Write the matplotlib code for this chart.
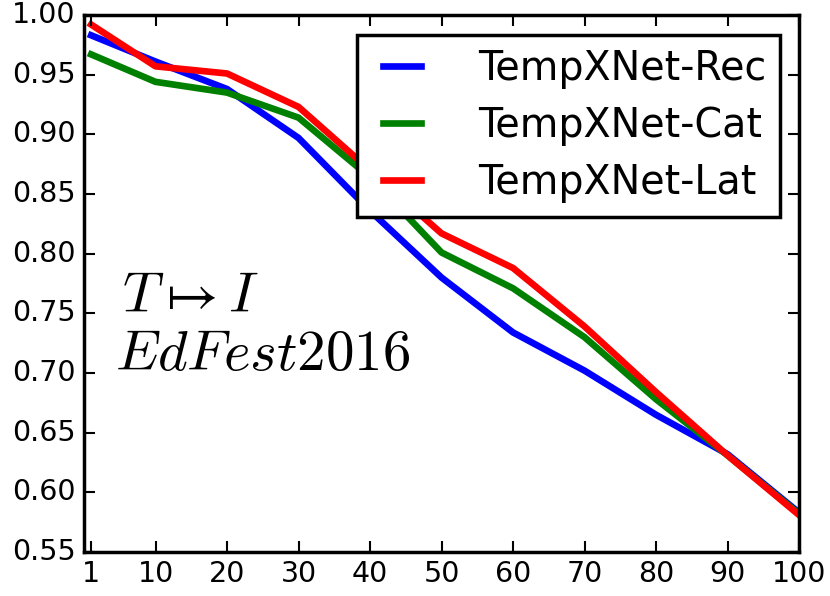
import numpy as np
import matplotlib
matplotlib.use('Agg')
import matplotlib.pyplot as plt

plt.style.use('classic')
plt.rcParams['mathtext.fontset'] = 'cm'
plt.rcParams['font.family'] = 'DejaVu Sans'

# Значення
k_values = [1, 10, 20, 30, 40, 50, 60, 70, 80, 90, 100]
rec = [0.983, 0.961, 0.938, 0.897, 0.836, 0.780, 0.734, 0.702, 0.665, 0.632, 0.583]
cat = [0.967, 0.944, 0.935, 0.914, 0.864, 0.801, 0.771, 0.730, 0.678, 0.631, 0.582]
lat = [0.992, 0.957, 0.951, 0.923, 0.870, 0.817, 0.788, 0.739, 0.684, 0.631, 0.581]
series_names = ['TempXNet-Rec', 'TempXNet-Cat', 'TempXNet-Lat']
x_ticks = [1, 10, 20, 30, 40, 50, 60, 70, 80, 90, 100]
y_ticks = [0.55, 0.60, 0.65, 0.70, 0.75, 0.80, 0.85, 0.90, 0.95, 1.00]

fig = plt.figure(figsize=(8.3, 5.96), dpi=100, facecolor='white')
ax = fig.add_axes([0.1012, 0.0738, 0.8615, 0.901])

colors = ['blue', 'green', 'red']
for vals, name, c in zip([rec, cat, lat], series_names, colors):
    ax.plot(k_values, vals, color=c, linewidth=4.8, label=name)

ax.set_xlim(0, 100)
ax.set_ylim(0.55, 1.00)
ax.set_xticks(x_ticks)
ax.set_yticks(y_ticks)
ax.set_yticklabels(['%.2f' % v for v in y_ticks])
ax.tick_params(labelsize=20.5, length=8, width=1.5, direction='in', pad=6)
for sp in ax.spines.values():
    sp.set_linewidth(2.5)

# Легенда в пікселях фігури
leg = ax.legend(loc='upper right', fontsize=28.5, handlelength=1.55, handletextpad=1.15,
                borderpad=0.35, labelspacing=0.43, numpoints=2, borderaxespad=0,
                bbox_to_anchor=(780 / 830, 1 - 35 / 596), bbox_transform=fig.transFigure)
leg.get_frame().set_linewidth(2.5)

ax.text(5.3, 0.7516, r'$T \mapsto I$', fontsize=41, ha='left', va='baseline')
ax.text(4.3, 0.7022, r'$EdFest2016$', fontsize=41, ha='left', va='baseline')

fig.savefig('out.png', dpi=100, facecolor='white')
